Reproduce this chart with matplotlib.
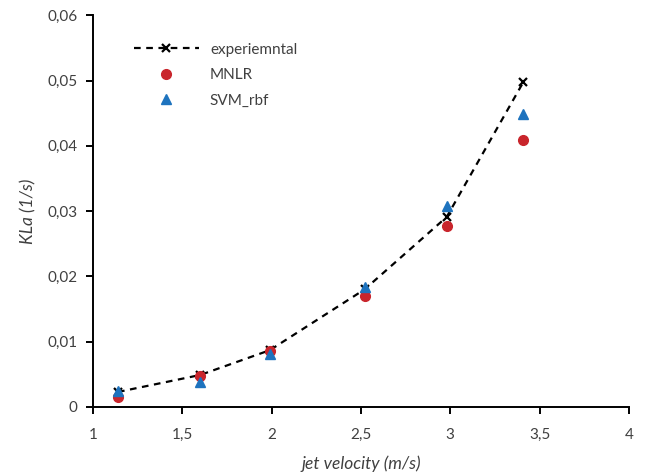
import matplotlib
matplotlib.use("Agg")
import matplotlib.pyplot as plt
from matplotlib.ticker import FuncFormatter

# jet velocity (m/s)
velocity = [1.14, 1.60, 1.99, 2.52, 2.98, 3.41]
# KLa values (1/s)
kla_exp = [0.0023, 0.0049, 0.0087, 0.0180, 0.0291, 0.0498]
kla_mnlr = [0.0016, 0.0047, 0.0085, 0.0170, 0.0277, 0.0409]
kla_svm = [0.0024, 0.0039, 0.0081, 0.0183, 0.0308, 0.0448]

x_ticks = [1, 1.5, 2, 2.5, 3, 3.5, 4]
y_ticks = [0, 0.01, 0.02, 0.03, 0.04, 0.05, 0.06]

plt.rcParams["font.family"] = ["Lato", "DejaVu Sans"]
txt = "#404040"

fig = plt.figure(figsize=(6.49, 4.76), dpi=100)
ax = fig.add_axes([0.1433, 0.145, 0.8257, 0.823])

ax.plot(velocity, kla_exp, "k--", marker="x", markersize=6, mew=1.6, lw=1.6,
        dashes=(3, 2.5), label="experiemntal")
ax.plot(velocity, kla_mnlr, "o", color="#C9252C", markersize=7, ls="none", label="MNLR")
ax.plot(velocity, kla_svm, "^", color="#1E73BE", markersize=7, ls="none", label="SVM_rbf")

ax.set_xlim(1, 4)
ax.set_ylim(0, 0.06)
ax.set_xticks(x_ticks)
ax.set_yticks(y_ticks)

def comma(v, pos):
    s = f"{v:.2f}" if v != 0 else "0"
    return s.replace(".", ",")

def comma_x(v, pos):
    s = f"{v:g}"
    return s.replace(".", ",")

ax.yaxis.set_major_formatter(FuncFormatter(comma))
ax.xaxis.set_major_formatter(FuncFormatter(comma_x))

for side in ["top", "right"]:
    ax.spines[side].set_visible(False)
for side in ["left", "bottom"]:
    ax.spines[side].set_linewidth(1.4)
ax.tick_params(direction="out", length=5, width=1.4, labelsize=11,
               labelcolor=txt, color="black")
ax.tick_params(axis="x", pad=10)
ax.tick_params(axis="y", pad=6)

ax.set_xlabel("jet velocity (m/s)", style="italic", fontsize=12.5, labelpad=10, color=txt)
ax.set_ylabel("KLa (1/s)", style="italic", fontsize=12.5, labelpad=8, color=txt)

leg = ax.legend(loc="upper left", bbox_to_anchor=(0.05, 0.965), frameon=False,
                fontsize=11, handlelength=4.3, handletextpad=0.7, labelspacing=0.75)
for t in leg.get_texts():
    t.set_color(txt)

fig.savefig("out.png", dpi=100)
